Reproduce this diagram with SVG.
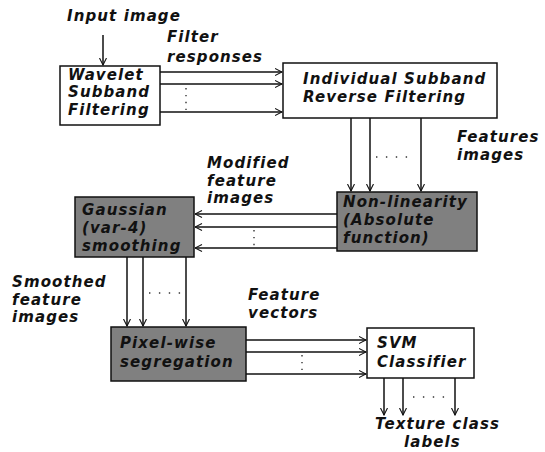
<svg xmlns="http://www.w3.org/2000/svg" width="545" height="452" viewBox="0 0 545 452">
<style>
text{font-family:"DejaVu Sans","Liberation Sans",sans-serif;font-weight:bold;font-style:italic;font-size:15px;letter-spacing:1.1px;fill:#111}
.box{fill:#fff;stroke:#111;stroke-width:1.5}
.gray{fill:#808080;stroke:#111;stroke-width:1.5}
.ln{fill:none;stroke:#111;stroke-width:1.5}
.dot{fill:none;stroke:#333;stroke-width:1.4;stroke-dasharray:1.4 8.5}
.vdot{fill:none;stroke:#333;stroke-width:1.4;stroke-dasharray:1.4 5.5}
</style>
<defs>
<marker id="ah" viewBox="0 0 8 8" refX="7.5" refY="4" markerWidth="8" markerHeight="8" markerUnits="userSpaceOnUse" orient="auto">
<path d="M0.5,0.5 L7.5,4 L0.5,7.5" fill="none" stroke="#111" stroke-width="1.1"/>
</marker>
</defs>
<rect width="545" height="452" fill="#fff"/>
<g id="labels">
<text x="67" y="21">Input image</text>
<text x="167" y="42">Filter</text>
<text x="167" y="62">responses</text>
<text x="457" y="142">Features</text>
<text x="457" y="160">images</text>
<text x="207" y="168">Modified</text>
<text x="207" y="186">feature</text>
<text x="207" y="203">images</text>
<text x="12" y="287">Smoothed</text>
<text x="12" y="305">feature</text>
<text x="12" y="322">images</text>
<text x="248" y="300">Feature</text>
<text x="248" y="318">vectors</text>
<text x="375" y="429">Texture class</text>
<text x="404" y="447">labels</text>
</g>
<g id="wavelet">
<rect class="box" x="60" y="66" width="100" height="59"/>
<text x="68" y="80">Wavelet</text>
<text x="68" y="97">Subband</text>
<text x="68" y="115">Filtering</text>
</g>
<g id="reverse">
<rect class="box" x="283" y="63" width="214" height="55"/>
<text x="303" y="84">Individual Subband</text>
<text x="303" y="102">Reverse Filtering</text>
</g>
<g id="nonlinearity">
<rect class="gray" x="337" y="192" width="140" height="59"/>
<text x="343" y="207">Non-linearity</text>
<text x="343" y="225">(Absolute</text>
<text x="343" y="243">function)</text>
</g>
<g id="gaussian">
<rect class="gray" x="75" y="197" width="119" height="60"/>
<text x="82" y="215">Gaussian</text>
<text x="82" y="233">(var-4)</text>
<text x="82" y="251">smoothing</text>
</g>
<g id="pixelwise">
<rect class="gray" x="111" y="327" width="135" height="54"/>
<text x="120" y="348">Pixel-wise</text>
<text x="120" y="367">segregation</text>
</g>
<g id="svm">
<rect class="box" x="367" y="328" width="107" height="50"/>
<text x="377" y="348">SVM</text>
<text x="377" y="367">Classifier</text>
</g>
<g id="connectors">
<line class="ln" x1="103" y1="35" x2="103" y2="65" marker-end="url(#ah)"/>
<line class="ln" x1="160" y1="72" x2="282" y2="72" marker-end="url(#ah)"/>
<line class="ln" x1="160" y1="84" x2="282" y2="84" marker-end="url(#ah)"/>
<line class="ln" x1="160" y1="112" x2="282" y2="112" marker-end="url(#ah)"/>
<line class="vdot" x1="186" y1="88" x2="186" y2="110"/>
<line class="ln" x1="351" y1="118" x2="351" y2="191" marker-end="url(#ah)"/>
<line class="ln" x1="370" y1="118" x2="370" y2="191" marker-end="url(#ah)"/>
<line class="ln" x1="421" y1="118" x2="421" y2="191" marker-end="url(#ah)"/>
<line class="dot" x1="376" y1="157" x2="414" y2="157"/>
<line class="ln" x1="337" y1="214" x2="195" y2="214" marker-end="url(#ah)"/>
<line class="ln" x1="337" y1="227" x2="195" y2="227" marker-end="url(#ah)"/>
<line class="ln" x1="337" y1="248" x2="195" y2="248" marker-end="url(#ah)"/>
<line class="vdot" x1="254" y1="230" x2="254" y2="246"/>
<line class="ln" x1="127" y1="257" x2="127" y2="326" marker-end="url(#ah)"/>
<line class="ln" x1="143" y1="257" x2="143" y2="326" marker-end="url(#ah)"/>
<line class="ln" x1="186" y1="257" x2="186" y2="326" marker-end="url(#ah)"/>
<line class="dot" x1="149" y1="293" x2="182" y2="293"/>
<line class="ln" x1="246" y1="340" x2="366" y2="340" marker-end="url(#ah)"/>
<line class="ln" x1="246" y1="352" x2="366" y2="352" marker-end="url(#ah)"/>
<line class="ln" x1="246" y1="374" x2="366" y2="374" marker-end="url(#ah)"/>
<line class="vdot" x1="302" y1="355" x2="302" y2="370"/>
<line class="ln" x1="384" y1="378" x2="384" y2="415" marker-end="url(#ah)"/>
<line class="ln" x1="403" y1="378" x2="403" y2="415" marker-end="url(#ah)"/>
<line class="ln" x1="455" y1="378" x2="455" y2="415" marker-end="url(#ah)"/>
<line class="dot" x1="413" y1="397" x2="448" y2="397"/>
</g>
</svg>
